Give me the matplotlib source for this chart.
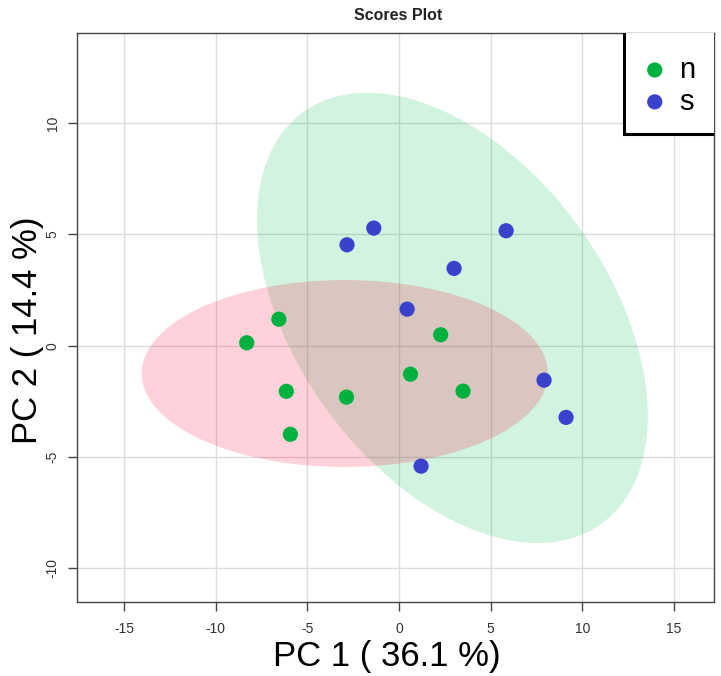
import numpy as np
import matplotlib
matplotlib.use('Agg')
import matplotlib.pyplot as plt
from matplotlib.patches import Ellipse, Rectangle

#----------- DATA ---------------------------------------#
groups = ['n', 's']
colors = ['#00B140', '#3A41CC']

pc1_n = [-8.31, -6.56, -6.15, -5.93, -2.87, 0.62, 2.27, 3.49]
pc2_n = [0.13, 1.19, -2.05, -3.98, -2.31, -1.28, 0.49, -2.04]

pc1_s = [-2.84, -1.38, 5.84, 3.00, 0.44, 7.91, 9.11, 1.20]
pc2_s = [4.53, 5.28, 5.16, 3.47, 1.64, -1.55, -3.22, -5.41]

# confidence ellipses: centre and covariance (xx, yy, xy)
ell_green_center = [2.91, 1.25]
ell_green_cov = [113.6, 102.2, -47.0]
ell_pink_center = [-2.96, -1.25]
ell_pink_cov = [122.8, 17.6, 0.0]

xticks = [-15, -10, -5, 0, 5, 10, 15]
yticks = [-10, -5, 0, 5, 10]
xlab = 'PC 1 ( 36.1 %)'
ylab = 'PC 2 ( 14.4 %)'
title = 'Scores Plot'

plt.rcParams['font.family'] = ['Liberation Sans', 'DejaVu Sans']
plt.rcParams['axes.unicode_minus'] = False


def ellipse_from_cov(center, cov, **kw):
    S = np.array([[cov[0], cov[2]], [cov[2], cov[1]]])
    vals, vecs = np.linalg.eigh(S)
    big = vecs[:, 1]
    ang = np.degrees(np.arctan2(big[1], big[0]))
    return Ellipse(center, 2*np.sqrt(vals[1]), 2*np.sqrt(vals[0]), angle=ang, **kw)


W, H = 721, 676
fig = plt.figure(figsize=(W/100., H/100.), dpi=100)
ax = fig.add_axes([77./W, (H-602.)/H, (714.-77.)/W, (602.-33.)/H])

ax.set_xlim(-17.57, 17.18)
ax.set_ylim(-11.51, 14.04)
ax.set_xticks(xticks)
ax.set_yticks(yticks)
ax.grid(True, color='#dcdcdc', lw=1.0)
ax.set_axisbelow(True)

ax.add_patch(ellipse_from_cov(ell_green_center, ell_green_cov,
                              facecolor='#00C050', alpha=0.18, lw=0, zorder=1))
ax.add_patch(ellipse_from_cov(ell_pink_center, ell_pink_cov,
                              facecolor='#FF0032', alpha=0.18, lw=0, zorder=1.1))

ax.scatter(pc1_n, pc2_n, s=120, c=colors[0], edgecolors='none', zorder=3)
ax.scatter(pc1_s, pc2_s, s=120, c=colors[1], edgecolors='none', zorder=3)

for sp in ax.spines.values():
    sp.set_color('#444444')
    sp.set_linewidth(1.0)

ax.tick_params(axis='both', direction='out', length=6.5, width=1, color='#444444',
               labelsize=10, labelcolor='#333333')
ax.tick_params(axis='x', pad=8)
ax.tick_params(axis='y', pad=6)
for t in ax.get_yticklabels():
    t.set_rotation(90)
    t.set_va('center')

ax.set_xlabel(xlab, fontsize=25, labelpad=3)
ax.set_ylabel(ylab, fontsize=25, labelpad=1)
ax.xaxis.label.set_x(0.487)
ax.yaxis.label.set_y(0.478)

# legend box in top right corner, partly cut by the plot frame
box = Rectangle((0.859, 0.822), 0.3, 0.3, transform=ax.transAxes, facecolor='white',
                edgecolor='black', lw=2.2, zorder=4, clip_on=True)
ax.add_patch(box)
ax.scatter([0.907, 0.907], [0.935, 0.879], s=120, c=colors, edgecolors='none',
           transform=ax.transAxes, zorder=5, clip_on=False)
for yy, g in zip([0.935, 0.879], groups):
    ax.text(0.945, yy, g, transform=ax.transAxes, fontsize=21, va='center',
            ha='left', zorder=5)

fig.text(398./W, 1 - 16./H, title, ha='center', va='center', fontsize=11.5,
         fontweight='bold', color='#222222')

plt.savefig('out.png', dpi=100)
